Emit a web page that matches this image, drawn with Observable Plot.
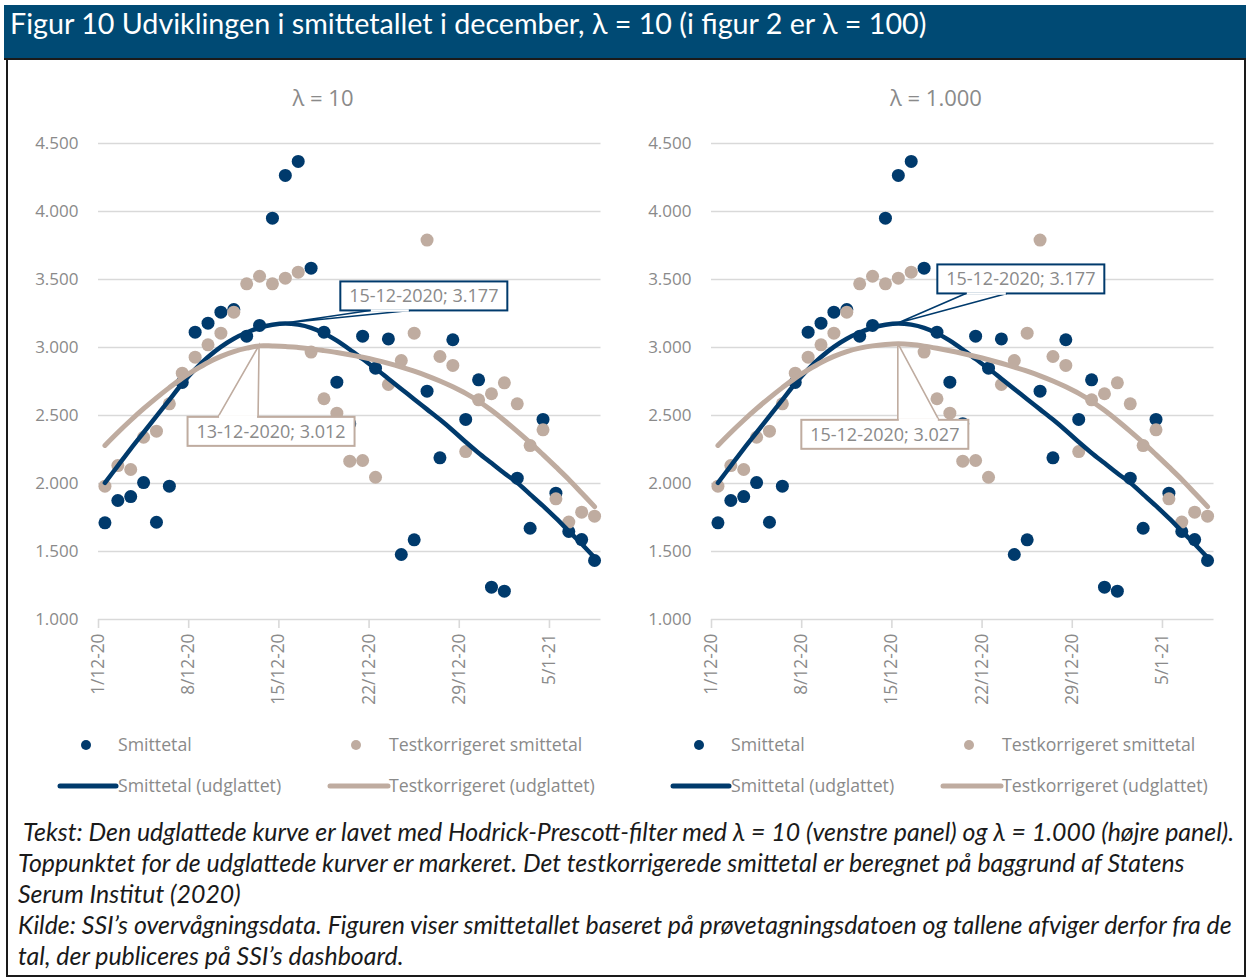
<!DOCTYPE html>
<html>
<head>
<meta charset="utf-8">
<script src="https://cdn.jsdelivr.net/npm/d3@7"></script>
<script src="https://cdn.jsdelivr.net/npm/@observablehq/plot@0.6"></script>
<style>
  html, body { margin: 0; padding: 0; background: #fff; }
  #page { position: relative; width: 1247px; height: 977px; overflow: hidden; font-family: "Open Sans", sans-serif; }
  #frame { position: absolute; left: 6px; top: 5px; width: 1236px; height: 968px; border: 2px solid #1a1a1a; box-sizing: content-box; }
  #titlebar { position: absolute; left: 4px; top: 5px; width: 1242px; height: 53px; background: #004a74; border-bottom: 2px solid #1a1a1a; }
  #title { position: absolute; left: 10px; top: 6px; color: #fff; font-family: Lato, sans-serif; font-size: 28.7px; white-space: nowrap; }
  .ptitle { position: absolute; top: 82px; width: 200px; text-align: center; color: #8a8a8a; font-size: 22px; }
  .leg { position: absolute; color: #8a8a8a; font-size: 17.7px; white-space: nowrap; }
  .sw { position: absolute; }
  #caption { position: absolute; left: 18px; top: 816px; font-family: Lato, sans-serif; font-style: italic; font-size: 24.9px; line-height: 31px; color: #1a1a1a; white-space: nowrap; }
</style>
</head>
<body>
<div id="page">
  <div id="frame"></div>
  <div id="titlebar"></div>
  <div id="title">Figur 10 Udviklingen i smittetallet i december, λ = 10 (i figur 2 er λ = 100)</div>
  <div id="caption">&nbsp;Tekst: Den udglattede kurve er lavet med Hodrick-Prescott-filter med λ = 10 (venstre panel) og λ = 1.000 (højre panel).<br>Toppunktet for de udglattede kurver er markeret. Det testkorrigerede smittetal er beregnet på baggrund af Statens<br>Serum Institut (2020)<br>Kilde: SSI’s overvågningsdata. Figuren viser smittetallet baseret på prøvetagningsdatoen og tallene afviger derfor fra de<br>tal, der publiceres på SSI’s dashboard.</div>
</div>
<script>
// ---------------- DATA ----------------
const dates = ["2020-12-01","2020-12-02","2020-12-03","2020-12-04","2020-12-05","2020-12-06","2020-12-07",
  "2020-12-08","2020-12-09","2020-12-10","2020-12-11","2020-12-12","2020-12-13","2020-12-14",
  "2020-12-15","2020-12-16","2020-12-17","2020-12-18","2020-12-19","2020-12-20","2020-12-21",
  "2020-12-22","2020-12-23","2020-12-24","2020-12-25","2020-12-26","2020-12-27","2020-12-28",
  "2020-12-29","2020-12-30","2020-12-31","2021-01-01","2021-01-02","2021-01-03","2021-01-04",
  "2021-01-05","2021-01-06","2021-01-07","2021-01-08"];

const smittetal = [1711,1875,1904,2007,1715,1980,2743,3113,3179,3260,3279,3083,3162,3951,4265,4368,3583,3113,2745,2440,
  3083,2848,3063,1478,1586,2679,2189,3057,2471,2762,1238,1208,2039,1671,2471,1929,1647,1588,1434];

const testkorrigeret = [1980,2132,2103,2340,2385,2586,2811,2929,3020,3105,3260,3468,3524,3468,3510,3554,2966,2623,2517,2164,
  2169,2046,2728,2904,3105,3790,2934,2868,2235,2615,2660,2740,2586,2279,2395,1887,1716,1789,1760];

// smoothed curves, lambda = 10 (left panel)
const smitteUdglattet10 = [2005,2130,2255,2375,2495,2615,2735,2840,2930,3005,3065,3110,3145,3167,3177,3168,3145,3105,3050,2985,
  2915,2845,2770,2695,2620,2545,2470,2390,2305,2225,2150,2075,2005,1920,1835,1745,1650,1555,1455];
const testUdglattet10 = [2280,2375,2465,2550,2630,2705,2775,2835,2890,2935,2970,2995,3012,3011,3008,3000,2990,2977,2963,2947,
  2928,2907,2883,2856,2826,2792,2754,2711,2663,2605,2538,2463,2383,2300,2212,2122,2030,1930,1830];

// smoothed curves, lambda = 1.000 (right panel)
const smitteUdglattet1000 = [2005,2130,2255,2375,2495,2615,2735,2840,2930,3005,3065,3110,3145,3167,3177,3168,3145,3105,3050,2985,
  2915,2845,2770,2695,2620,2545,2470,2390,2305,2225,2150,2075,2005,1920,1835,1745,1650,1555,1455];
const testUdglattet1000 = [2280,2375,2465,2550,2630,2705,2775,2835,2890,2935,2970,2995,3012,3022,3027,3022,3010,2994,2976,2956,
  2934,2910,2884,2856,2826,2792,2754,2711,2663,2605,2538,2463,2383,2300,2212,2122,2030,1930,1830];

const tickDates = ["2020-12-01","2020-12-08","2020-12-15","2020-12-22","2020-12-29","2021-01-05"];
const yTicks = [1000,1500,2000,2500,3000,3500,4000,4500];
const panelTitles = ["λ = 10", "λ = 1.000"];
const legendLabels = ["Smittetal", "Testkorrigeret smittetal", "Smittetal (udglattet)", "Testkorrigeret (udglattet)"];

// ---------------- STYLE ----------------
const NAVY = "#003a6c";
const BEIGE = "#bfaca0";
const GREY_TXT = "#8a8a8a";
const GRID = "#d9d9d9";

const parse = d3.utcParse("%Y-%m-%d");
const mid = s => d3.utcHour.offset(parse(s), 12);
const fmtY = d => d3.format(",")(d).replace(/,/g, ".");
const fmtX = d => `${d.getUTCDate()}/${d.getUTCMonth() + 1}-${String(d.getUTCFullYear()).slice(2)}`;
const fmtLabelDate = d => d3.utcFormat("%d-%m-%Y")(d);

function panel(leftPx, smoothA, smoothB, calloutOffsets) {
  const pts = dates.map((d, i) => ({date: mid(d), s: smittetal[i], t: testkorrigeret[i], sa: smoothA[i], sb: smoothB[i]}));
  const svg = Plot.plot({
    width: 613,
    height: 590,
    marginLeft: 98,
    marginRight: 12.5,
    marginTop: 13,
    marginBottom: 101,
    style: {fontFamily: "Open Sans, sans-serif", fontSize: "17px", background: "transparent", overflow: "visible"},
    x: {type: "utc", domain: [parse("2020-12-01"), parse("2021-01-09")]},
    y: {domain: [1000, 4500]},
    marks: [
      Plot.gridY(yTicks, {stroke: GRID, strokeOpacity: 1, strokeWidth: 1.6}),
      Plot.axisY(yTicks, {tickSize: 0, tickPadding: 20, tickFormat: fmtY, fill: GREY_TXT, fontSize: 17, label: null}),
      Plot.axisX(tickDates.map(parse), {tickFormat: fmtX, tickRotate: -90, tickSize: 9, tickPadding: 5, stroke: GRID, strokeWidth: 1.6, fill: GREY_TXT, fontSize: 17.3, label: null}),
      Plot.dot(pts, {x: "date", y: "s", r: 6.5, fill: NAVY, stroke: "none"}),
      Plot.dot(pts, {x: "date", y: "t", r: 6.5, fill: BEIGE, stroke: "none"}),
      Plot.line(pts, {x: "date", y: "sa", stroke: NAVY, strokeWidth: 4.5, curve: "catmull-rom"}),
      Plot.line(pts, {x: "date", y: "sb", stroke: BEIGE, strokeWidth: 5, curve: "catmull-rom"})
    ]
  });
  // callouts at the peaks of the smoothed curves
  const xs = svg.scale("x"), ys = svg.scale("y");
  const g = d3.select(svg).append("g");
  [[smoothA, NAVY, calloutOffsets[0]], [smoothB, BEIGE, calloutOffsets[1]]].forEach(([arr, col, o]) => {
    const k = d3.maxIndex(arr);
    const px = xs.apply(mid(dates[k])), py = ys.apply(arr[k]);
    const bw = 167, bh = 29;
    const bx = px + o.dx - bw / 2, by = py + o.dy - bh / 2;
    const baseY = o.dy < 0 ? by + bh : by;
    g.append("path")
      .attr("d", `M${px + o.w0},${baseY} L${px},${py} L${px + o.w1},${baseY}`)
      .attr("fill", "#fff").attr("stroke", col).attr("stroke-width", 1.6).attr("stroke-linejoin", "miter");
    g.append("rect").attr("x", bx).attr("y", by).attr("width", bw).attr("height", bh)
      .attr("fill", "#fff").attr("stroke", col).attr("stroke-width", 2);
    g.append("path")
      .attr("d", `M${px + o.w0 + 1},${baseY} L${px + o.w1 - 1},${baseY}`)
      .attr("stroke", "#fff").attr("stroke-width", 2.5);
    g.append("text").attr("x", bx + bw / 2).attr("y", by + bh / 2).attr("dy", "0.35em")
      .attr("text-anchor", "middle").attr("fill", GREY_TXT).attr("font-size", 18)
      .text(`${fmtLabelDate(parse(dates[k]))}; ${fmtY(arr[k])}`);
  });
  svg.style.left = leftPx + "px";
  svg.style.position = "absolute";
  svg.style.top = "130px";
  return svg;
}

const page = document.getElementById("page");
page.appendChild(panel(0, smitteUdglattet10, testUdglattet10,
  [{dx: 139, dy: -27, w0: 85, w1: 125}, {dx: 12, dy: 86, w0: -41, w1: -1}]));
page.appendChild(panel(613, smitteUdglattet1000, testUdglattet1000,
  [{dx: 123, dy: -44, w0: 68, w1: 109}, {dx: -13, dy: 91, w0: 0, w1: 41}]));

// panel titles and legends
[0, 613].forEach((off, p) => {
  const t = document.createElement("div");
  t.className = "ptitle";
  t.style.left = (off + 223) + "px";
  t.textContent = panelTitles[p];
  page.appendChild(t);

  const items = [
    {kind: "dot", col: NAVY, sx: 86, y: 745, tx: 118, label: legendLabels[0]},
    {kind: "dot", col: BEIGE, sx: 356, y: 745, tx: 389, label: legendLabels[1]},
    {kind: "line", col: NAVY, sx: 60, ex: 116, y: 786, tx: 118, label: legendLabels[2]},
    {kind: "line", col: BEIGE, sx: 330, ex: 388, y: 786, tx: 389, label: legendLabels[3]}
  ];
  items.forEach(it => {
    const s = d3.create("svg").attr("class", "sw").attr("width", 70).attr("height", 20)
      .style("left", (off + it.sx - 8) + "px").style("top", (it.y - 10) + "px");
    if (it.kind === "dot") s.append("circle").attr("cx", 8).attr("cy", 10).attr("r", 5).attr("fill", it.col);
    else s.append("line").attr("x1", 8).attr("x2", 8 + it.ex - it.sx).attr("y1", 10).attr("y2", 10)
      .attr("stroke", it.col).attr("stroke-width", 5).attr("stroke-linecap", "round");
    page.appendChild(s.node());
    const l = document.createElement("div");
    l.className = "leg";
    l.style.left = (off + it.tx) + "px";
    l.style.top = (it.y - 13) + "px";
    l.textContent = it.label;
    page.appendChild(l);
  });
});
</script>
</body>
</html>
